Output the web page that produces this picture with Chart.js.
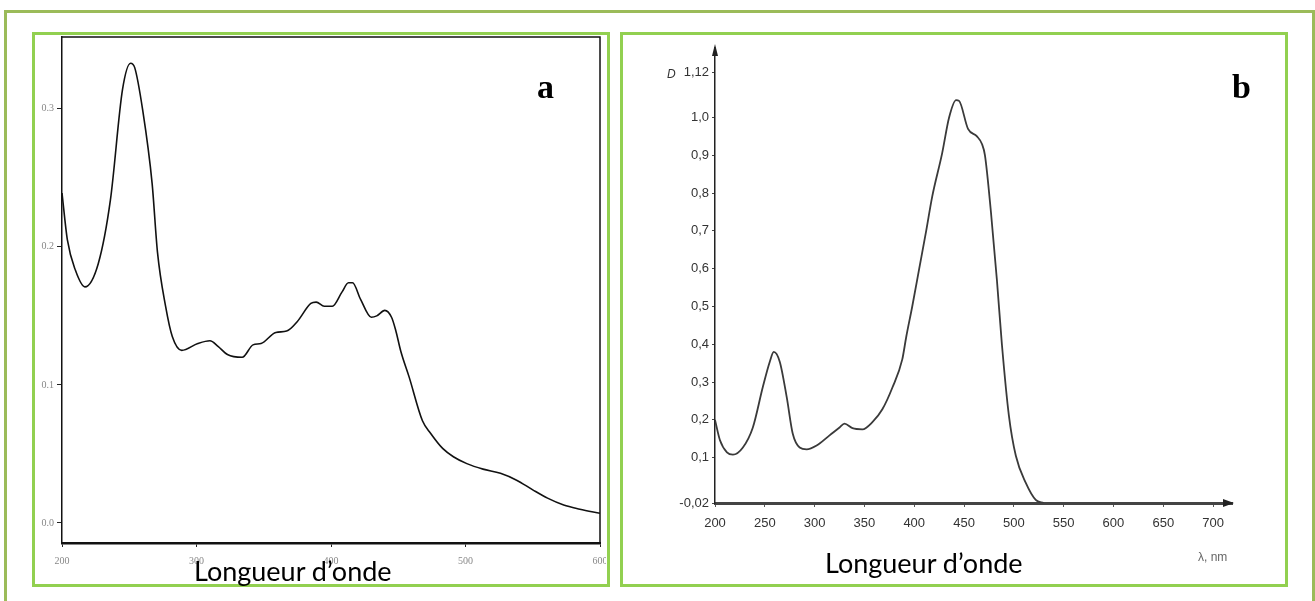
<!DOCTYPE html>
<html>
<head>
<meta charset="utf-8">
<script src="https://cdn.jsdelivr.net/npm/chart.js@4.4.1/dist/chart.umd.min.js"></script>
<style>
body { margin: 0; width: 1315px; height: 601px; background: #fff; position: relative; overflow: hidden; }
.outer { position: absolute; left: 4px; top: 10px; width: 1311px; height: 640px; border: 3px solid #9bbb59; box-sizing: border-box; }
.panel { position: absolute; border: 3px solid #92d050; box-sizing: border-box; }
canvas { position: absolute; }
.tag { position: absolute; font-family: "Liberation Serif", "Times New Roman", serif; font-weight: bold; font-size: 34px; line-height: 34px; color: #000; }
.xlab { position: absolute; font-family: Lato, "Open Sans", sans-serif; font-size: 27px; line-height: 27px; color: #000; white-space: nowrap; }
.small { position: absolute; font-family: "Liberation Sans", Arial, sans-serif; font-size: 12px; line-height: 12px; color: #333; white-space: nowrap; }
</style>
</head>
<body>
<div class="outer"></div>
<div class="panel" style="left:32px;top:32px;width:578px;height:555px;"></div>
<div class="panel" style="left:620px;top:32px;width:668px;height:555px;"></div>
<canvas id="chartA" width="570" height="548" style="left:36px;top:36px;"></canvas>
<canvas id="chartB" width="660" height="548" style="left:624px;top:36px;"></canvas>
<div class="tag" style="left:537px;top:70px;">a</div>
<div class="tag" style="left:1232px;top:70px;">b</div>
<div class="xlab" style="left:194px;top:557px;">Longueur d’onde</div>
<div class="xlab" style="left:825px;top:549px;">Longueur d’onde</div>
<div class="small" style="left:667px;top:68px;font-style:italic;">D</div>
<div class="small" style="left:1198px;top:551px;color:#666;">λ, nm</div>
<script>
// spectrum a
const lambdaA = [200, 204, 210, 217, 227, 236, 245, 251, 254, 260, 267, 271, 277, 282, 289, 301, 310, 316, 323, 334,
    342, 348, 359, 367, 375, 385, 389, 395, 401, 408, 413, 416, 422, 430, 434, 440, 445, 448, 452, 458,
    468, 474, 483, 491, 501, 513, 526, 538, 550, 561, 573, 585, 600];
const absA = [0.239, 0.205, 0.183, 0.171, 0.188, 0.234, 0.314, 0.333, 0.330, 0.299, 0.246, 0.196, 0.157, 0.135, 0.125, 0.130, 0.132, 0.128, 0.122, 0.120,
    0.129, 0.130, 0.138, 0.139, 0.146, 0.159, 0.160, 0.157, 0.157, 0.167, 0.174, 0.174, 0.162, 0.149, 0.150, 0.154, 0.149, 0.140, 0.124, 0.106,
    0.074, 0.065, 0.054, 0.048, 0.043, 0.039, 0.036, 0.031, 0.024, 0.018, 0.013, 0.010, 0.007];
const xTicksA = [200, 300, 400, 500, 600];
const yTicksA = [0, 0.1, 0.2, 0.3];

// spectrum b
const lambdaB = [200, 205, 212, 218, 228, 238, 248, 255, 259, 265, 272, 278, 285, 292, 302, 315, 325, 330, 338, 348,
    358, 368, 378, 388, 392, 398, 405, 412, 418, 428, 435, 442, 445, 454, 463, 468, 471, 477, 483, 488, 495,
    502, 512, 522, 530];
const absB = [0.200, 0.146, 0.114, 0.108, 0.127, 0.180, 0.287, 0.354, 0.380, 0.354, 0.260, 0.164, 0.127, 0.122, 0.132, 0.159, 0.180, 0.190, 0.178, 0.175,
    0.194, 0.228, 0.285, 0.360, 0.420, 0.500, 0.600, 0.700, 0.790, 0.905, 1.000, 1.046, 1.044, 0.970, 0.950, 0.930, 0.900, 0.750, 0.570, 0.400, 0.212,
    0.105, 0.033, -0.012, -0.020];
const xTicksB = [200, 250, 300, 350, 400, 450, 500, 550, 600, 650, 700];
const yTicksB = [-0.02, 0.1, 0.2, 0.3, 0.4, 0.5, 0.6, 0.7, 0.8, 0.9, 1.0, 1.12];
const yLabelsB = ['-0,02', '0,1', '0,2', '0,3', '0,4', '0,5', '0,6', '0,7', '0,8', '0,9', '1,0', '1,12'];

function points(xs, ys) {
    return xs.map((x, i) => ({x: x, y: ys[i]}));
}

// fixed axis sizes so the plot sits where the scan has it
function fixSize(size) {
    return function (scale) {
        if (scale.isHorizontal()) scale.height = size; else scale.width = size;
        scale.paddingLeft = 0; scale.paddingRight = 0;
        scale.paddingTop = 0; scale.paddingBottom = 0;
    };
}

const frame = {
    id: 'frame',
    afterDraw(chart) {
        const a = chart.chartArea, ctx = chart.ctx;
        ctx.save();
        ctx.strokeStyle = '#111';
        ctx.lineWidth = 1.5;
        ctx.beginPath();
        ctx.moveTo(a.left, a.top);
        ctx.lineTo(a.right, a.top);
        ctx.lineTo(a.right, a.bottom);
        ctx.stroke();
        ctx.restore();
    }
};

const arrows = {
    id: 'arrows',
    afterDraw(chart) {
        const a = chart.chartArea, ctx = chart.ctx;
        ctx.save();
        ctx.fillStyle = '#222';
        ctx.beginPath();
        ctx.moveTo(a.left, a.top - 4);
        ctx.lineTo(a.left - 3, a.top + 8);
        ctx.lineTo(a.left + 3, a.top + 8);
        ctx.closePath();
        ctx.fill();
        ctx.beginPath();
        ctx.moveTo(a.right + 2, a.bottom);
        ctx.lineTo(a.right - 9, a.bottom - 4);
        ctx.lineTo(a.right - 9, a.bottom + 4);
        ctx.closePath();
        ctx.fill();
        ctx.restore();
    }
};

const configA = {
    type: 'line',
    data: {
        datasets: [{
            data: points(lambdaA, absA),
            borderColor: '#111',
            borderWidth: 1.6,
            pointRadius: 0,
            cubicInterpolationMode: 'monotone',
            fill: false
        }]
    },
    options: {
        responsive: false,
        animation: false,
        layout: {padding: {left: 0, top: 1, right: 6, bottom: 0}},
        plugins: {legend: {display: false}, tooltip: {enabled: false}},
        scales: {
            x: {
                type: 'linear', min: 200, max: 600,
                afterBuildTicks: s => { s.ticks = xTicksA.map(v => ({value: v})); },
                afterFit: fixSize(41),
                grid: {drawOnChartArea: false, tickLength: 4, tickColor: '#222'},
                border: {color: '#111', width: 2.5},
                ticks: {padding: 8, maxRotation: 0, color: '#888',
                    font: {family: '"Liberation Serif", serif', size: 10}}
            },
            y: {
                type: 'linear', min: -0.0145, max: 0.352,
                afterBuildTicks: s => { s.ticks = yTicksA.map(v => ({value: v})); },
                afterFit: fixSize(26),
                grid: {drawOnChartArea: false, tickLength: 5, tickColor: '#222'},
                border: {color: '#111', width: 1.5},
                ticks: {padding: 3, color: '#888', callback: v => v.toFixed(1),
                    font: {family: '"Liberation Serif", serif', size: 10}}
            }
        }
    },
    plugins: [frame]
};

const configB = {
    type: 'line',
    data: {
        datasets: [{
            data: points(lambdaB, absB),
            borderColor: '#3a3a3a',
            borderWidth: 1.8,
            pointRadius: 0,
            cubicInterpolationMode: 'monotone',
            fill: false
        }]
    },
    options: {
        responsive: false,
        animation: false,
        layout: {padding: {left: 0, top: 12, right: 52, bottom: 0}},
        plugins: {legend: {display: false}, tooltip: {enabled: false}},
        scales: {
            x: {
                type: 'linear', min: 200, max: 719,
                afterBuildTicks: s => { s.ticks = xTicksB.map(v => ({value: v})); },
                afterFit: fixSize(81),
                grid: {drawOnChartArea: false, tickLength: 4, tickColor: '#555'},
                border: {color: '#444', width: 3},
                ticks: {padding: 9, maxRotation: 0, color: '#333',
                    font: {family: '"Liberation Sans Narrow", "Liberation Sans", sans-serif', size: 13}}
            },
            y: {
                type: 'linear', min: -0.02, max: 1.184,
                afterBuildTicks: s => { s.ticks = yTicksB.map(v => ({value: v})); },
                afterFit: fixSize(91),
                grid: {drawOnChartArea: false, tickLength: 3, tickColor: '#444'},
                border: {color: '#222', width: 1.5},
                ticks: {padding: 3, color: '#333',
                    callback: (v, i) => yLabelsB[i],
                    font: {family: '"Liberation Sans Narrow", "Liberation Sans", sans-serif', size: 13}}
            }
        }
    },
    plugins: [arrows]
};

const chartA = new Chart(document.getElementById('chartA'), configA);
const chartB = new Chart(document.getElementById('chartB'), configB);
</script>
</body>
</html>
